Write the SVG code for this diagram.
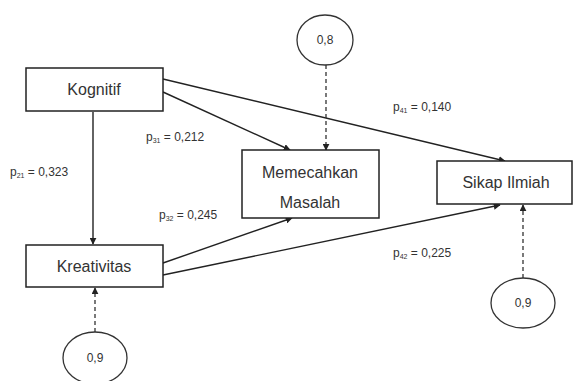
<svg xmlns="http://www.w3.org/2000/svg" width="575" height="381" viewBox="0 0 575 381">
<defs>
<marker id="ah" viewBox="0 0 10 10" refX="9" refY="5" markerWidth="7" markerHeight="7" markerUnits="userSpaceOnUse" orient="auto">
<path d="M0,0 L10,5 L0,10 z" fill="#222"/>
</marker>
</defs>
<style>
.box{fill:#fff;stroke:#222;stroke-width:1.5}
.ell{fill:#fff;stroke:#333;stroke-width:1.3}
.lbl{font-family:"Liberation Sans",Arial,sans-serif;font-size:16px;fill:#333;text-anchor:middle}
.num{font-family:"Liberation Sans",Arial,sans-serif;font-size:12px;fill:#333;text-anchor:middle}
.coef{font-family:"Liberation Sans",Arial,sans-serif;font-size:12px;fill:#333}
.sub{font-size:7px}
.ln{fill:none;stroke:#222;stroke-width:1.4;marker-end:url(#ah)}
.dash{fill:none;stroke:#333;stroke-width:1.3;stroke-dasharray:4 3;marker-end:url(#ah)}
</style>
<rect width="575" height="381" fill="#fff"/>
<g id="connectors">
<line class="ln" x1="93" y1="112" x2="93" y2="244"/>
<line class="ln" x1="163" y1="92" x2="290" y2="150"/>
<line class="ln" x1="163" y1="79" x2="505" y2="161"/>
<line class="ln" x1="163" y1="263" x2="292" y2="218"/>
<line class="ln" x1="163" y1="275" x2="500" y2="205"/>
<line class="dash" x1="326" y1="65" x2="326" y2="150"/>
<line class="dash" x1="95" y1="332" x2="95" y2="288"/>
<line class="dash" x1="523" y1="278" x2="523" y2="205"/>
</g>
<g id="kognitif">
<rect class="box" x="26" y="68" width="137" height="43"/>
<text class="lbl" x="94" y="95">Kognitif</text>
</g>
<g id="kreativitas">
<rect class="box" x="26" y="245" width="137" height="42"/>
<text class="lbl" x="94" y="272">Kreativitas</text>
</g>
<g id="memecahkan">
<rect class="box" x="242" y="150" width="137" height="68"/>
<text class="lbl" x="310" y="178">Memecahkan</text>
<text class="lbl" x="310" y="208">Masalah</text>
</g>
<g id="sikap">
<rect class="box" x="437" y="161" width="135" height="43"/>
<text class="lbl" x="506" y="188">Sikap Ilmiah</text>
</g>
<g id="e1">
<ellipse class="ell" cx="325" cy="40" rx="28" ry="25"/>
<text class="num" x="325" y="44">0,8</text>
</g>
<g id="e2">
<ellipse class="ell" cx="95" cy="358" rx="32" ry="26"/>
<text class="num" x="95" y="362">0,9</text>
</g>
<g id="e3">
<ellipse class="ell" cx="523" cy="303" rx="32" ry="25"/>
<text class="num" x="523" y="307">0,9</text>
</g>
<g id="labels">
<text class="coef" x="10" y="176">p<tspan class="sub" dy="2">21</tspan><tspan dy="-2"> = 0,323</tspan></text>
<text class="coef" x="146" y="141">p<tspan class="sub" dy="2">31</tspan><tspan dy="-2"> = 0,212</tspan></text>
<text class="coef" x="159" y="219">p<tspan class="sub" dy="2">32</tspan><tspan dy="-2"> = 0,245</tspan></text>
<text class="coef" x="393" y="111">p<tspan class="sub" dy="2">41</tspan><tspan dy="-2"> = 0,140</tspan></text>
<text class="coef" x="393" y="257">p<tspan class="sub" dy="2">42</tspan><tspan dy="-2"> = 0,225</tspan></text>
</g>
</svg>
